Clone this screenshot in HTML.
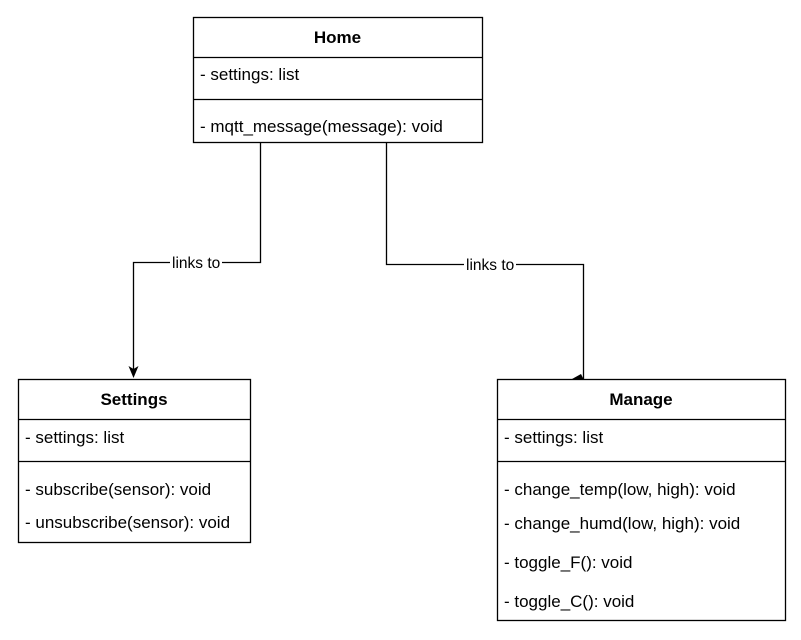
<!DOCTYPE html>
<html><head><style>
body{margin:0;background:#fff;width:801px;height:635px;overflow:hidden}
svg text{font-family:"Liberation Sans",Arial,sans-serif;font-size:17px;fill:#000}
</style></head><body>
<svg width="801" height="635" viewBox="0 0 801 635">
<g fill="none" stroke="#000" stroke-width="1.3">
<rect x="193.5" y="17.5" width="289" height="125"/>
<line x1="193" y1="57.5" x2="482" y2="57.5"/>
<line x1="193" y1="99.5" x2="482" y2="99.5"/>
<rect x="18.5" y="379.5" width="232" height="163"/>
<line x1="18" y1="419.5" x2="250" y2="419.5"/>
<line x1="18" y1="461.5" x2="250" y2="461.5"/>
<rect x="497.5" y="379.5" width="288" height="241"/>
<line x1="497" y1="419.5" x2="785" y2="419.5"/>
<line x1="497" y1="461.5" x2="785" y2="461.5"/>
<polyline points="260.5,143 260.5,262.5 133.5,262.5 133.5,372"/>
<polyline points="386.5,143 386.5,264.5 583.5,264.5 583.5,379"/>
</g>
<polygon points="133.5,378 128.5,366 133.5,369 138.5,366" fill="#000"/>
<polygon points="583.5,379 572,379 581,374" fill="#000"/>
<rect x="170" y="254" width="52" height="17" fill="#fff"/>
<rect x="464" y="256" width="52" height="17" fill="#fff"/>
<text x="172" y="268" style="font-size:15.5px">links to</text>
<text x="466" y="270" style="font-size:15.5px">links to</text>
<text x="337.5" y="43" text-anchor="middle" font-weight="bold">Home</text>
<text x="200" y="80">- settings: list</text>
<text x="200" y="132">- mqtt_message(message): void</text>
<text x="134" y="405" text-anchor="middle" font-weight="bold">Settings</text>
<text x="25" y="443">- settings: list</text>
<text x="25" y="495">- subscribe(sensor): void</text>
<text x="25" y="528">- unsubscribe(sensor): void</text>
<text x="641" y="405" text-anchor="middle" font-weight="bold">Manage</text>
<text x="504" y="443">- settings: list</text>
<text x="504" y="495">- change_temp(low, high): void</text>
<text x="504" y="529">- change_humd(low, high): void</text>
<text x="504" y="568">- toggle_F(): void</text>
<text x="504" y="607">- toggle_C(): void</text>
</svg>
</body></html>
